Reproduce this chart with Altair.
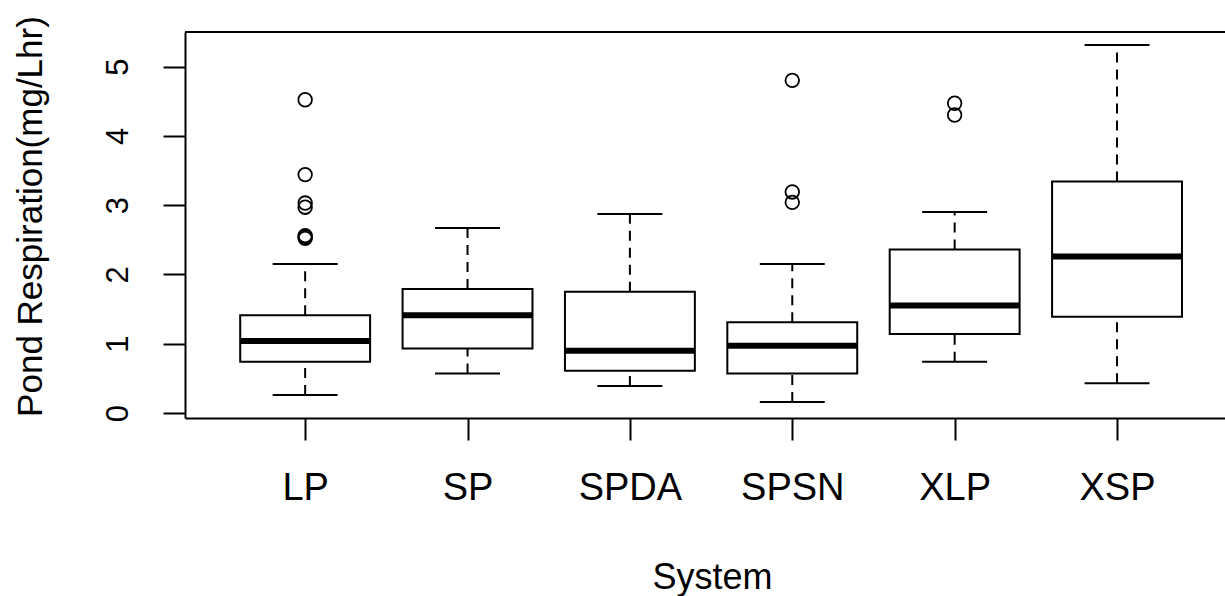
import altair as alt
import pandas as pd

systems = ["LP", "SP", "SPDA", "SPSN", "XLP", "XSP"]
lower_whisker = [0.26, 0.57, 0.39, 0.16, 0.74, 0.43]
q1 = [0.74, 0.93, 0.61, 0.57, 1.14, 1.39]
median = [1.04, 1.41, 0.90, 0.97, 1.55, 2.26]
q3 = [1.41, 1.79, 1.75, 1.31, 2.36, 3.34]
upper_whisker = [2.15, 2.67, 2.87, 2.15, 2.90, 5.31]
outlier_system = ["LP", "LP", "LP", "LP", "LP", "LP", "LP",
                  "SPSN", "SPSN", "SPSN", "XLP", "XLP"]
outlier_value = [4.52, 3.44, 3.03, 2.97, 2.56, 2.54, 2.52,
                 4.80, 3.19, 3.04, 4.47, 4.30]

FONT = "Liberation Sans"
W, H = 1040, 386

stats = pd.DataFrame({
    "system": systems,
    "pos": list(range(1, len(systems) + 1)),
    "lw": lower_whisker, "q1": q1, "med": median, "q3": q3, "uw": upper_whisker,
})
outs = pd.DataFrame({
    "pos": [systems.index(s) + 1 for s in outlier_system],
    "value": outlier_value,
})

xscale = alt.Scale(domain=[0.26, 6.665], nice=False, zero=False)
yscale = alt.Scale(domain=[-0.072, 5.498], nice=False, zero=False)

label_list = "[" + ",".join("'%s'" % s for s in systems) + "]"

x_axis = alt.Axis(values=list(range(1, len(systems) + 1)), labelExpr=label_list + "[datum.value-1]",
                  title="System", grid=False, domain=True, domainColor="black", domainWidth=2,
                  tickColor="black", tickWidth=2, tickSize=22,
                  labelFont=FONT, labelFontSize=38, labelColor="black", labelPadding=59,
                  labelBaseline="alphabetic", labelFlush=False,
                  titleFont=FONT, titleFontSize=36, titleFontWeight="normal", titleColor="black",
                  titleX=527, titleY=170, titleBaseline="alphabetic", titleAlign="center")
y_axis = alt.Axis(values=[0, 1, 2, 3, 4, 5], format="d", title="Pond Respiration(mg/Lhr)",
                  grid=False,
                  domain=True, domainColor="black", domainWidth=2,
                  tickColor="black", tickWidth=2, tickSize=22,
                  labelFont=FONT, labelFontSize=31, labelColor="black", labelAngle=270,
                  labelAlign="center", labelBaseline="alphabetic", labelPadding=36,
                  labelFlush=False,
                  titleFont=FONT, titleFontSize=35, titleFontWeight="normal", titleColor="black",
                  titleAngle=270, titleX=-144, titleY=184, titleAlign="center",
                  titleBaseline="alphabetic")

base = alt.Chart(stats)

whisk_lo = base.mark_rule(color="black", strokeWidth=2, strokeDash=[10, 7]).encode(
    x=alt.X("pos:Q", scale=xscale, axis=x_axis),
    y=alt.Y("lw:Q", scale=yscale, axis=y_axis),
    y2="q1:Q")
whisk_hi = base.mark_rule(color="black", strokeWidth=2, strokeDash=[10, 7]).encode(
    x="pos:Q", y="q3:Q", y2="uw:Q")

caps_lo = base.transform_calculate(a="datum.pos - 0.2", b="datum.pos + 0.2").mark_rule(
    color="black", strokeWidth=2).encode(x="a:Q", x2="b:Q", y="lw:Q")
caps_hi = base.transform_calculate(a="datum.pos - 0.2", b="datum.pos + 0.2").mark_rule(
    color="black", strokeWidth=2).encode(x="a:Q", x2="b:Q", y="uw:Q")

box = base.transform_calculate(a="datum.pos - 0.4", b="datum.pos + 0.4").mark_rect(
    fill="white", stroke="black", strokeWidth=2).encode(x="a:Q", x2="b:Q", y="q1:Q", y2="q3:Q")
med = base.transform_calculate(a="datum.pos - 0.4", b="datum.pos + 0.4").mark_rule(
    color="black", strokeWidth=6, strokeCap="butt").encode(x="a:Q", x2="b:Q", y="med:Q")

pts = alt.Chart(outs).mark_point(shape="circle", filled=False, color="black", size=185,
                                 strokeWidth=1.8, opacity=1).encode(x="pos:Q", y="value:Q")

top = alt.Chart(stats).mark_rule(color="black", strokeWidth=2).encode(
    x=alt.value(0), x2=alt.value(W), y=alt.value(0))

chart = alt.layer(whisk_lo, whisk_hi, caps_lo, caps_hi, box, med, pts, top).properties(
    width=W, height=H,
    autosize=alt.AutoSizeParams(type="none"),
    padding={"left": 185, "top": 32, "right": 0, "bottom": 596 - 32 - H},
    background="white",
).configure_view(stroke=None)

chart.save("out.html", embed_options={"renderer": "svg", "actions": False})
